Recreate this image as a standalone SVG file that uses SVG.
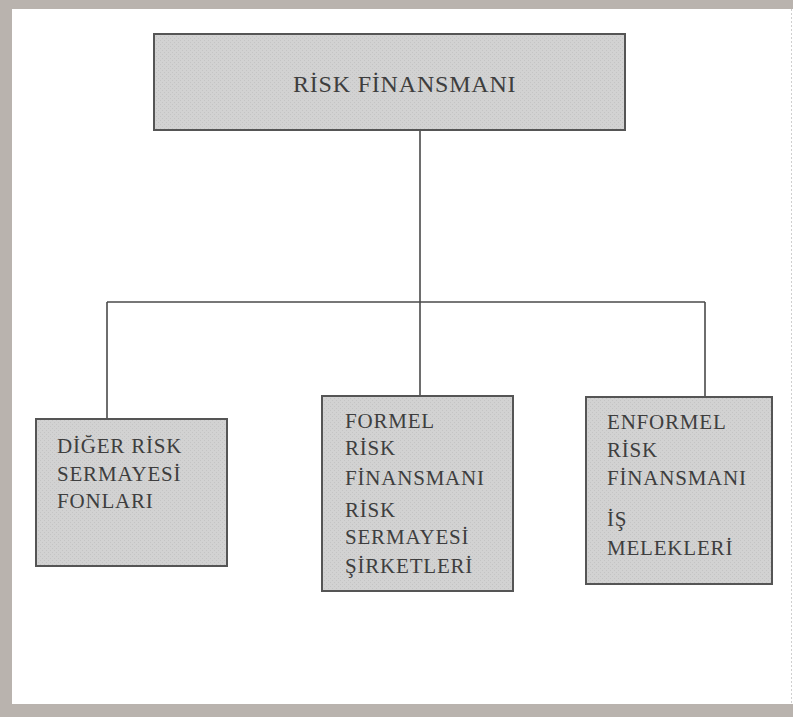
<svg xmlns="http://www.w3.org/2000/svg" width="793" height="717" viewBox="0 0 793 717">
  <defs>
    <pattern id="grain" width="4" height="4" patternUnits="userSpaceOnUse">
      <rect width="4" height="4" fill="#d2d2d2"/>
      <rect width="1" height="1" fill="#c4c4c4"/>
      <rect x="2" y="2" width="1" height="1" fill="#c4c4c4"/>
    </pattern>
  </defs>
  <style>
    .box { fill: url(#grain); stroke: #555; stroke-width: 2; }
    .lbl { font-family: "Liberation Serif", "DejaVu Serif", serif; font-size: 21px; fill: #3e3e3e; letter-spacing: 0.8px; }
    .title { font-size: 24px; }
    .conn { fill: none; stroke: #4a4a4a; stroke-width: 1.6; }
  </style>
  <rect x="0" y="0" width="793" height="717" fill="#ffffff"/>
  <g id="frame">
    <rect x="0" y="0" width="793" height="9" fill="#b9b3ae"/>
    <rect x="0" y="0" width="12" height="717" fill="#b9b3ae"/>
    <rect x="0" y="704" width="793" height="13" fill="#b9b3ae"/>
    <line x1="791.5" y1="9" x2="791.5" y2="704" stroke="#cfcfcf" stroke-width="1" stroke-dasharray="2 2"/>
  </g>
  <g id="connectors">
    <path class="conn" d="M420 130 V302"/>
    <path class="conn" d="M107 302 H705"/>
    <path class="conn" d="M107 302 V419"/>
    <path class="conn" d="M420 302 V396"/>
    <path class="conn" d="M705 302 V397"/>
  </g>
  <g id="risk-finansmani">
    <rect class="box" x="154" y="34" width="471" height="96"/>
    <text class="lbl title" x="293" y="92">RİSK FİNANSMANI</text>
  </g>
  <g id="diger-risk">
    <rect class="box" x="36" y="419" width="191" height="147"/>
    <text class="lbl" x="57" y="453">DİĞER RİSK</text>
    <text class="lbl" x="57" y="481">SERMAYESİ</text>
    <text class="lbl" x="57" y="508">FONLARI</text>
  </g>
  <g id="formel">
    <rect class="box" x="322" y="396" width="191" height="195"/>
    <text class="lbl" x="345" y="428">FORMEL</text>
    <text class="lbl" x="345" y="455">RİSK</text>
    <text class="lbl" x="345" y="485">FİNANSMANI</text>
    <text class="lbl" x="345" y="517">RİSK</text>
    <text class="lbl" x="345" y="544">SERMAYESİ</text>
    <text class="lbl" x="345" y="573">ŞİRKETLERİ</text>
  </g>
  <g id="enformel">
    <rect class="box" x="586" y="397" width="186" height="187"/>
    <text class="lbl" x="607" y="429">ENFORMEL</text>
    <text class="lbl" x="607" y="457">RİSK</text>
    <text class="lbl" x="607" y="485">FİNANSMANI</text>
    <text class="lbl" x="607" y="526">İŞ</text>
    <text class="lbl" x="607" y="555">MELEKLERİ</text>
  </g>
</svg>
